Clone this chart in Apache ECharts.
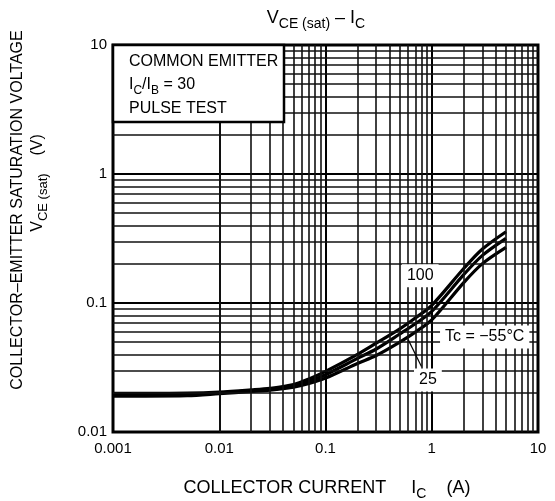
<!DOCTYPE html>
<html><head><meta charset="utf-8">
<script src="https://cdn.jsdelivr.net/npm/echarts@6/dist/echarts.min.js"></script>
<style>html,body{margin:0;padding:0;background:#fff}#c{width:555px;height:501px}</style>
</head><body><div id="c"></div>
<script>
// ---- data ----
const currentA   = [0.001, 0.002, 0.005, 0.01, 0.02, 0.03, 0.05, 0.07, 0.1, 0.2, 0.3, 0.5, 0.7, 1, 2, 3, 5];
const vce100     = [0.0199, 0.0199, 0.0200, 0.0204, 0.0212, 0.0218, 0.0233, 0.0258, 0.0295, 0.0400, 0.0488, 0.0630, 0.0765, 0.096, 0.185, 0.262, 0.357];
const vce25      = [0.0194, 0.0194, 0.0195, 0.0201, 0.0209, 0.0214, 0.0228, 0.0248, 0.0278, 0.0372, 0.0440, 0.0575, 0.0690, 0.086, 0.166, 0.234, 0.317];
const vceM55     = [0.0190, 0.0190, 0.0191, 0.0198, 0.0206, 0.0211, 0.0223, 0.0238, 0.0262, 0.0340, 0.0392, 0.0498, 0.0595, 0.074, 0.144, 0.202, 0.270];
const xTickLabels = ['0.001', '0.01', '0.1', '1', '10'];
const yTickLabels = ['0.01', '0.1', '1', '10'];
const xMinorGrid = [0.002,0.003,0.004,0.005,0.006,0.007,0.008,0.009, 0.02,0.03,0.04,0.05,0.06,0.07,0.08,0.09, 0.2,0.3,0.4,0.5,0.6,0.7,0.8,0.9, 2,3,4,5,6,7,8,9];
const yMinorGrid = [0.02,0.03,0.04,0.05,0.06,0.07,0.08,0.09, 0.2,0.3,0.4,0.5,0.6,0.7,0.8,0.9, 2,3,4,5,6,7,8,9];
const curveLabels = [
  {text: '100', coord: [0.78, 0.163]},
  {text: 'Tc = \u221255\u00b0C', coord: [3.15, 0.0545]},
  {text: '25', coord: [0.92, 0.0253]}
];
const pointer25 = [[0.80, 0.0322], [0.60, 0.052]];

const FONT = '"Liberation Sans", Arial, Helvetica, sans-serif';
const chart = echarts.init(document.getElementById('c'), null, {renderer: 'canvas'});

function toPairs(xs, ys) { return xs.map((x, i) => [x, ys[i]]); }
function lbl(arr, v) { return arr[Math.round(Math.log10(v)) - Math.round(Math.log10(parseFloat(arr[0])))] || ''; }

const gridLineStyle = {color: '#111', width: 1.6, type: 'solid'};
const minorLines = xMinorGrid.map(v => ({xAxis: v})).concat(yMinorGrid.map(v => ({yAxis: v})));

const curveStyle = {color: '#000', width: 3.2};
function curve(name, ys) {
  return {
    name, type: 'line', data: toPairs(currentA, ys), smooth: 0.3,
    showSymbol: false, symbol: 'none', z: 4, silent: true,
    lineStyle: curveStyle, animation: false
  };
}

const option = {
  animation: false,
  backgroundColor: '#fff',
  grid: {left: 113, top: 45, width: 425, height: 387, show: true, borderColor: '#000', borderWidth: 3, backgroundColor: 'transparent', containLabel: false},
  xAxis: {
    type: 'log', logBase: 10, min: 0.001, max: 10,
    axisLine: {show: false}, axisTick: {show: false},
    splitLine: {show: true, lineStyle: {color: '#000', width: 2}},
    axisLabel: {color: '#000', fontSize: 15, fontFamily: FONT, margin: 9, formatter: v => lbl(xTickLabels, v)}
  },
  yAxis: {
    type: 'log', logBase: 10, min: 0.01, max: 10,
    axisLine: {show: false}, axisTick: {show: false},
    splitLine: {show: true, lineStyle: {color: '#000', width: 2}},
    axisLabel: {color: '#000', fontSize: 15, fontFamily: FONT, margin: 6, formatter: v => lbl(yTickLabels, v)}
  },
  series: [
    {
      type: 'line', data: [[0.001, 0.01]], showSymbol: false, symbol: 'none', z: 1, silent: true,
      lineStyle: {opacity: 0},
      markLine: {silent: true, symbol: ['none', 'none'], label: {show: false}, lineStyle: gridLineStyle, emphasis: {disabled: true}, data: minorLines, animation: false}
    },
    curve('100', vce100),
    curve('25', vce25),
    curve('-55', vceM55),
    {
      type: 'line', data: [[0.001, 0.01]], showSymbol: false, symbol: 'none', z: 6, silent: true,
      lineStyle: {opacity: 0},
      markLine: {silent: true, symbol: ['none', 'none'], label: {show: false},
        lineStyle: {color: '#000', width: 1.2, type: 'solid'},
        data: [[{coord: pointer25[0]}, {coord: pointer25[1]}]], animation: false},
      markPoint: {
        silent: true, symbol: 'rect', symbolSize: 0, animation: false,
        label: {show: true, position: 'inside', color: '#000', fontSize: 16, fontFamily: FONT,
          backgroundColor: '#fff', padding: [4, 5, 3, 5], formatter: p => p.name},
        data: curveLabels.map(d => ({name: d.text, coord: d.coord}))
      }
    }
  ],
  graphic: [
    {type: 'rect', z: 50, shape: {x: 113, y: 45, width: 171, height: 77}, style: {fill: '#fff', stroke: '#000', lineWidth: 2.5}},
    {type: 'text', z: 51, x: 129, y: 62, style: {text: 'COMMON EMITTER', font: '16px ' + FONT, fill: '#000', textVerticalAlign: 'middle'}},
    {type: 'text', z: 51, x: 129, y: 87, style: {
      text: '{n|I}{s|C}{n|/I}{s|B}{n| = 30}', textVerticalAlign: 'middle', fill: '#000',
      rich: {n: {fontSize: 16, fontFamily: FONT, lineHeight: 20, verticalAlign: 'top'}, s: {fontSize: 12, fontFamily: FONT, lineHeight: 10, verticalAlign: 'bottom'}}}},
    {type: 'text', z: 51, x: 129, y: 109, style: {text: 'PULSE TEST', font: '16px ' + FONT, fill: '#000', textVerticalAlign: 'middle'}},
    // title
    {type: 'text', z: 51, x: 316, y: 20, style: {
      text: '{n|V}{s|CE (sat)}{n| \u2013 I}{s|C}', textAlign: 'center', textVerticalAlign: 'middle', fill: '#000',
      rich: {n: {fontSize: 18, fontFamily: FONT, lineHeight: 22, verticalAlign: 'top'}, s: {fontSize: 14, fontFamily: FONT, lineHeight: 12, verticalAlign: 'bottom'}}}},
    // x axis title
    {type: 'text', z: 51, x: 327, y: 490, style: {
      text: '{n|COLLECTOR CURRENT     I}{s|C}{n|    (A)}', textAlign: 'center', textVerticalAlign: 'middle', fill: '#000',
      rich: {n: {fontSize: 18, fontFamily: FONT, lineHeight: 22, verticalAlign: 'top'}, s: {fontSize: 14, fontFamily: FONT, lineHeight: 12, verticalAlign: 'bottom'}}}},
    // y axis title
    {type: 'text', z: 51, x: 18, y: 210, rotation: Math.PI / 2, style: {
      text: 'COLLECTOR\u2013EMITTER SATURATION VOLTAGE', font: '16px ' + FONT, fill: '#000', textAlign: 'center', textVerticalAlign: 'middle'}},
    {type: 'text', z: 51, x: 40, y: 183, rotation: Math.PI / 2, style: {
      text: '{n|V}{s|CE (sat)}{n|    (V)}', textAlign: 'center', textVerticalAlign: 'middle', fill: '#000',
      rich: {n: {fontSize: 16, fontFamily: FONT, lineHeight: 20, verticalAlign: 'top'}, s: {fontSize: 13, fontFamily: FONT, lineHeight: 10, verticalAlign: 'bottom'}}}}
  ]
};
chart.setOption(option);
</script>
</body></html>
